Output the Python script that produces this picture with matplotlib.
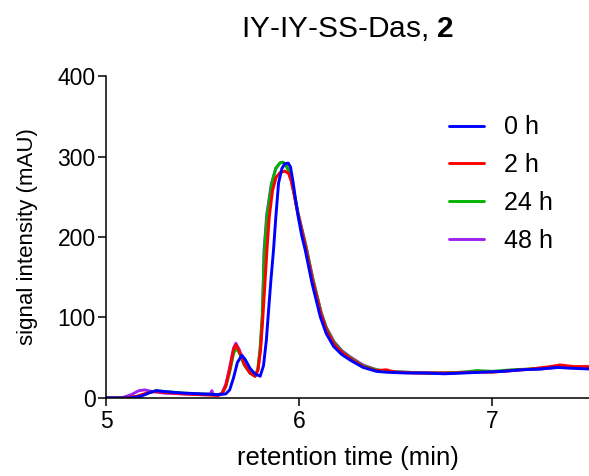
import matplotlib
matplotlib.use("Agg")
import matplotlib.pyplot as plt

plt.rcParams['font.family'] = ['Liberation Sans', 'DejaVu Sans']
plt.rcParams['mathtext.fontset'] = 'custom'
plt.rcParams['mathtext.rm'] = 'Liberation Sans'
plt.rcParams['mathtext.bf'] = 'Liberation Sans:bold'

# retention time (min) / signal (mAU)
t_0h = [5.00, 5.12, 5.18, 5.23, 5.26, 5.30, 5.40, 5.50, 5.58, 5.62, 5.64, 5.66, 5.68, 5.703,
        5.72, 5.745, 5.77, 5.798, 5.815, 5.83, 5.839, 5.853, 5.867, 5.879, 5.893, 5.91, 5.925,
        5.943, 5.955, 5.969, 5.982, 5.995, 6.012, 6.031, 6.066, 6.109, 6.14, 6.178, 6.22, 6.264,
        6.33, 6.40, 6.45, 6.55, 6.65, 6.75, 6.85, 6.95, 7.05, 7.15, 7.25, 7.335, 7.40, 7.50]
s_0h = [0, 0, 2, 7, 9, 8, 6, 5, 4, 5, 10, 25, 44, 53,
        48, 37, 30, 27, 40, 72, 101, 145, 184, 225, 267, 285, 291,
        292, 287, 267, 245, 225, 203, 184, 143, 101, 80, 64, 54, 47,
        38, 33, 32, 31, 31, 30, 31, 32, 33, 35, 36, 38, 37, 36]

t_2h = [5.00, 5.10, 5.16, 5.21, 5.25, 5.30, 5.40, 5.50, 5.58, 5.60, 5.62, 5.64, 5.66, 5.672,
        5.69, 5.715, 5.745, 5.772, 5.787, 5.80, 5.812, 5.822, 5.833, 5.845, 5.862, 5.88, 5.90,
        5.925, 5.945, 5.958, 5.972, 5.99, 6.00, 6.035, 6.07, 6.113, 6.14, 6.18, 6.22, 6.264,
        6.33, 6.40, 6.45, 6.50, 6.60, 6.70, 6.80, 6.90, 7.00, 7.10, 7.20, 7.30, 7.35, 7.42, 7.50]
s_2h = [0, 0, 2, 6, 8, 7, 5, 4, 3, 5, 15, 35, 60, 66,
        58, 42, 31, 27, 35, 60, 101, 140, 184, 225, 258, 274, 280,
        282, 279, 270, 255, 232, 222, 185, 145, 104, 85, 67, 57, 49,
        39, 34, 35, 32, 31, 31, 31, 32, 32, 34, 36, 39, 41, 39, 39]

t_24h = [5.00, 5.12, 5.18, 5.23, 5.26, 5.30, 5.40, 5.50, 5.58, 5.60, 5.62, 5.64, 5.66, 5.672,
         5.69, 5.715, 5.745, 5.77, 5.785, 5.797, 5.808, 5.82, 5.835, 5.858, 5.88, 5.90, 5.915,
         5.93, 5.945, 5.96, 5.975, 5.995, 6.035, 6.07, 6.113, 6.14, 6.18, 6.22, 6.264, 6.33,
         6.40, 6.45, 6.55, 6.65, 6.75, 6.85, 6.92, 7.00, 7.10, 7.20, 7.30, 7.40, 7.50]
s_24h = [0, 0, 3, 7, 9, 8, 6, 5, 4, 5, 14, 32, 55, 62,
         56, 41, 31, 27, 35, 60, 101, 184, 230, 267, 286, 292, 293,
         290, 282, 270, 252, 228, 188, 148, 106, 87, 69, 58, 50, 40,
         35, 33, 32, 31, 31, 32, 34, 33, 35, 36, 38, 38, 37]

t_48h = [5.00, 5.08, 5.13, 5.17, 5.20, 5.24, 5.30, 5.40, 5.50, 5.54, 5.548, 5.555, 5.58, 5.60,
         5.62, 5.64, 5.66, 5.672, 5.69, 5.715, 5.745, 5.772, 5.787, 5.80, 5.81, 5.818, 5.832,
         5.855, 5.878, 5.90, 5.915, 5.93, 5.945, 5.96, 5.975, 5.995, 6.035, 6.07, 6.113, 6.14,
         6.18, 6.22, 6.264, 6.33, 6.40, 6.45, 6.55, 6.65, 6.75, 6.85, 6.95, 7.05, 7.15, 7.25,
         7.35, 7.50]
s_48h = [0, 0, 4, 9, 10, 8, 6, 5, 4, 5, 9, 4, 4, 6,
         17, 38, 62, 68, 60, 43, 31, 27, 36, 65, 101, 184, 228,
         265, 285, 292, 293, 290, 283, 271, 253, 229, 189, 149, 107, 88,
         70, 59, 51, 41, 35, 33, 32, 31, 31, 32, 33, 33, 35, 36,
         38, 37]

labels = ['0 h', '2 h', '24 h', '48 h']
colors = ['#0000ff', '#ff0000', '#00b400', '#a020f0']

fig = plt.figure(figsize=(5.89, 4.76), dpi=100)
ax = fig.add_axes([0.18, 0.164, 0.82, 0.676])

series = [(t_0h, s_0h), (t_2h, s_2h), (t_24h, s_24h), (t_48h, s_48h)]
# draw 48 h first so 0 h ends on top
handles = [None] * 4
for i in [3, 2, 1, 0]:
    t, s = series[i]
    handles[i], = ax.plot(t, s, color=colors[i], lw=2.1, label=labels[i],
                          solid_joinstyle='round', solid_capstyle='round')

ax.set_xlim(5, 7.5)
ax.set_ylim(0, 400)
ax.set_xticks([5, 6, 7])
ax.set_yticks([0, 100, 200, 300, 400])
for side in ['top', 'right']:
    ax.spines[side].set_visible(False)
for side in ['left', 'bottom']:
    ax.spines[side].set_linewidth(1.1)
ax.tick_params(direction='out', length=6, width=1.1, labelsize=16.5)
ax.tick_params(axis='y', pad=1.5)
ax.tick_params(axis='x', pad=3)

ax.set_xlabel('retention time (min)', fontsize=18.5, labelpad=9)
ax.set_ylabel('signal intensity (mAU)', fontsize=16, labelpad=14)
ax.set_title(r'IY-IY-SS-Das, $\mathbf{2}$', fontsize=21.5, pad=28)

ax.legend(handles=handles, loc='upper right', bbox_to_anchor=(0.973, 0.948),
          frameon=False, fontsize=18, handlelength=1.4, handletextpad=0.8,
          labelspacing=0.55)

fig.savefig('out.png', dpi=100)
